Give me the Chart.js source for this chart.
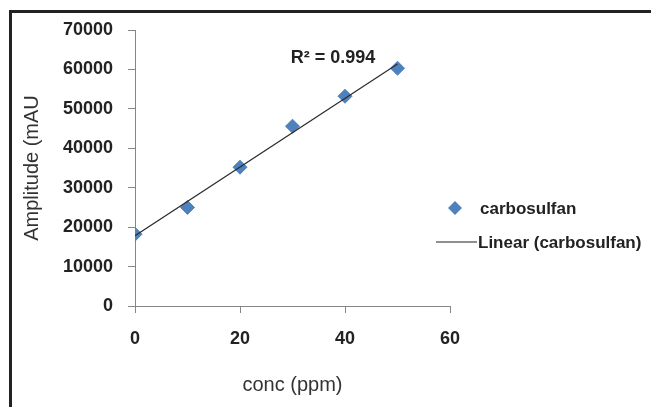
<!DOCTYPE html>
<html>
<head>
  <title>carbosulfan calibration</title>
  <script src="https://cdn.jsdelivr.net/npm/chart.js"></script>
  <style>
    body { margin: 0; background: #fff; overflow: hidden; }
    .wrap { position: relative; width: 651px; height: 407px; }
    .frame { position: absolute; left: 9px; top: 10px; width: 700px; height: 500px;
             border-left: 3px solid #222; border-top: 3px solid #222; pointer-events: none; }
    canvas { position: absolute; left: 0; top: 0; }
  </style>
</head>
<body>
  <div class="wrap">
    <canvas id="calChart" width="651" height="407"></canvas>
    <div class="frame"></div>
  </div>

  <script>
    // measured points
    const concPpm = [0, 10, 20, 30, 40, 50];
    const amplitude = [18200, 25000, 35200, 45600, 53200, 60300];
    // trendline ends
    const trendX = [0, 50];
    const trendY = [17800, 61400];
    const seriesName = 'carbosulfan';
    const trendName = 'Linear (carbosulfan)';
    const rSquared = 'R\u00b2 = 0.994';

    const axisGray = '#868686';
    const bold18 = { family: 'Liberation Sans', size: 18, weight: 'bold' };

    // legend + R² text, drawn by hand to sit like the Excel original
    const extras = {
      id: 'extras',
      afterDatasetsDraw(chart) {
        const ctx = chart.ctx;
        const xs = chart.scales.x, ys = chart.scales.y;
        ctx.save();
        ctx.fillStyle = '#222';
        ctx.font = 'bold 18px "Liberation Sans"';
        ctx.textAlign = 'center';
        ctx.textBaseline = 'middle';
        ctx.fillText(rSquared, xs.getPixelForValue(37.7), ys.getPixelForValue(63000));

        // legend
        ctx.font = 'bold 17px "Liberation Sans"';
        ctx.textAlign = 'left';
        ctx.fillStyle = '#4F81BD';
        ctx.beginPath();
        ctx.moveTo(455, 201); ctx.lineTo(462, 208); ctx.lineTo(455, 215); ctx.lineTo(448, 208);
        ctx.closePath();
        ctx.fill();
        ctx.fillStyle = '#222';
        ctx.fillText(seriesName, 480, 209);

        ctx.strokeStyle = '#222';
        ctx.lineWidth = 1.2;
        ctx.beginPath();
        ctx.moveTo(436, 242); ctx.lineTo(477, 242);
        ctx.stroke();
        ctx.fillText(trendName, 478, 243);
        ctx.restore();
      }
    };

    new Chart(document.getElementById('calChart'), {
      type: 'scatter',
      data: {
        datasets: [
          {
            label: trendName,
            data: trendX.map((x, i) => ({ x: x, y: trendY[i] })),
            showLine: true,
            borderColor: '#2b2b2b',
            borderWidth: 1.2,
            pointRadius: 0,
            order: 0
          },
          {
            label: seriesName,
            data: concPpm.map((x, i) => ({ x: x, y: amplitude[i] })),
            pointStyle: 'rectRot',
            pointRadius: 7,
            backgroundColor: '#4F81BD',
            borderColor: '#4F81BD',
            order: 1
          }
        ]
      },
      options: {
        responsive: false,
        animation: false,
        layout: { padding: { left: 10, right: 201, top: 30, bottom: 0 } },
        plugins: {
          legend: { display: false },
          tooltip: { enabled: false }
        },
        scales: {
          x: {
            type: 'linear',
            min: 0, max: 60,
            afterFit: s => { s.height = 101; },
            ticks: { stepSize: 20, color: '#222', font: bold18, padding: 15 },
            grid: { drawOnChartArea: false, color: axisGray, tickLength: 7 },
            border: { color: axisGray, width: 1 },
            title: { display: true, text: 'conc (ppm)', color: '#333',
                     font: { family: 'Liberation Sans', size: 20 }, padding: { top: 4, bottom: 10 } }
          },
          y: {
            min: 0, max: 70000,
            afterFit: s => { s.width = 125; },
            ticks: { stepSize: 10000, color: '#222', font: bold18, padding: 15,
                     callback: v => String(v) },
            grid: { drawOnChartArea: false, color: axisGray, tickLength: 7 },
            border: { color: axisGray, width: 1 },
            title: { display: true, text: 'Amplitude (mAU', color: '#333',
                     font: { family: 'Liberation Sans', size: 20 }, padding: { top: 10, bottom: 4 } }
          }
        }
      },
      plugins: [extras]
    });
  </script>
</body>
</html>
